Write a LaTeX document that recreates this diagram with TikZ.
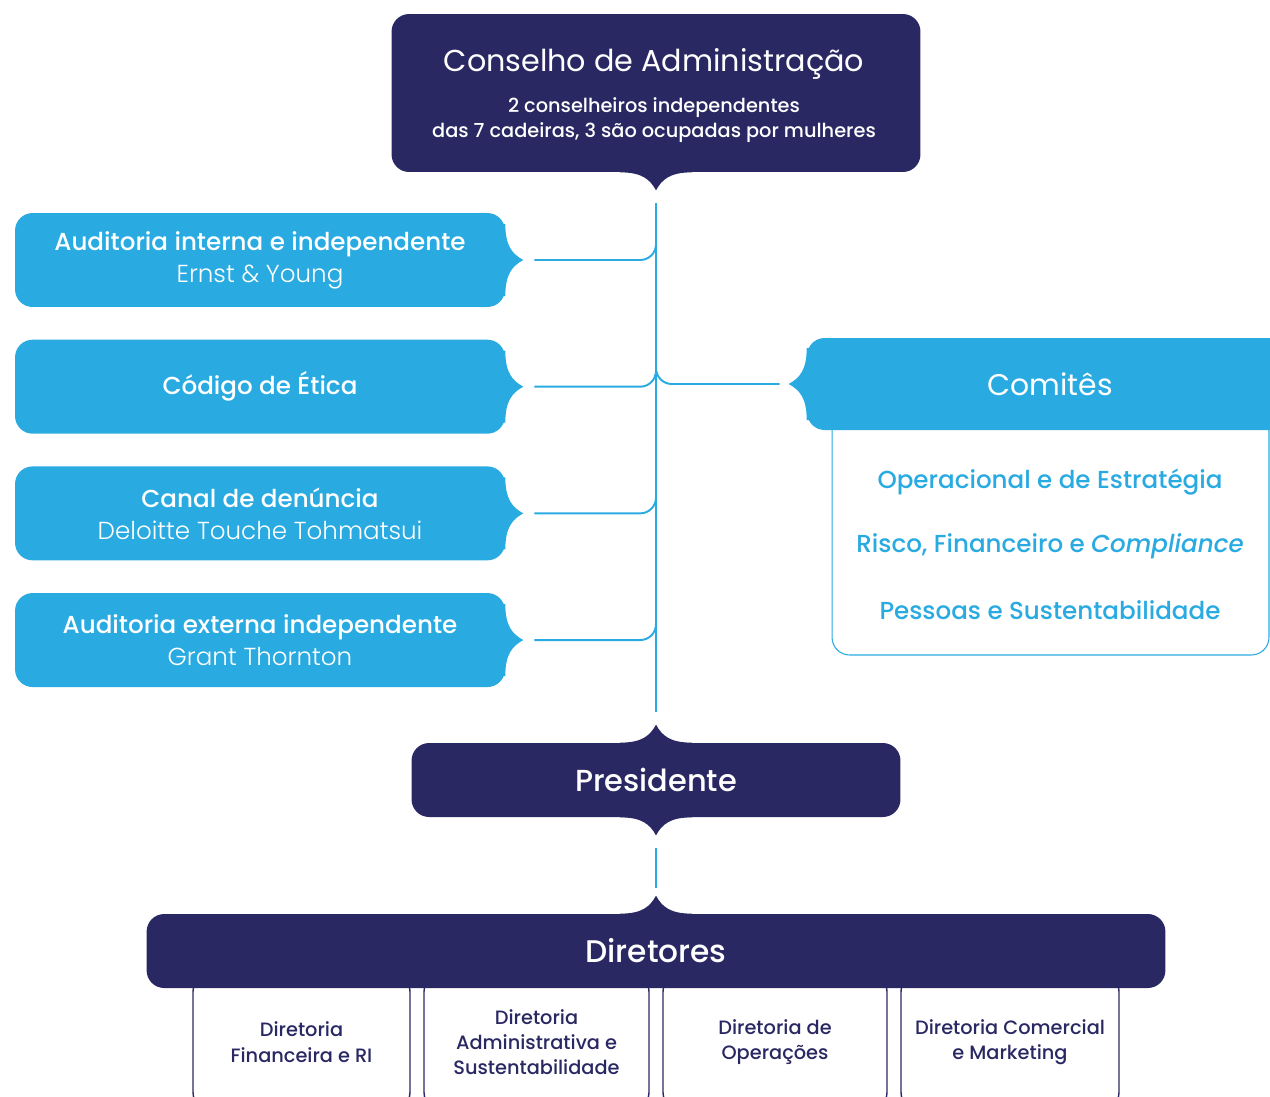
\documentclass[tikz,border=0pt]{standalone}
\usepackage{fontspec}
\setmainfont{Poppins}
\IfFontExistsTF{Poppins Medium}{\newfontfamily\medfont{Poppins Medium}}{\newfontfamily\medfont{Poppins}[FakeBold=0.4]}
\IfFontExistsTF{Poppins Light}{\newfontfamily\lightfont{Poppins Light}}{\newfontfamily\lightfont{Poppins}}
\usetikzlibrary{calc, positioning}
\definecolor{navy}{HTML}{2A2863}
\definecolor{skyblue}{HTML}{29ABE2}

\begin{document}
\begin{tikzpicture}[
x=0.02cm, y=-0.02cm,
node distance=0.64cm,
darkbox/.style={fill=navy, rounded corners=10pt, text=white, align=center, inner sep=0pt},
bluebox/.style={fill=skyblue, rounded corners=10pt, text=white, align=center, inner sep=0pt,
  minimum width=9.8cm, minimum height=1.88cm, font=\fontsize{14}{18.2}\selectfont},
subbox/.style={draw=navy, line width=0.8pt, fill=white, rounded corners=10pt, align=center,
  minimum height=2.72cm, text=navy, font=\medfont\fontsize{11}{14.4}\selectfont},
item/.style={text=skyblue, font=\medfont\fontsize{14}{16}\selectfont},
link/.style={draw=skyblue, line width=1.1pt},
notch/.pic={\fill (-36,-3) -- (-36,0) .. controls (-14,0) and (-6,7) .. (0,18)
  .. controls (6,7) and (14,0) .. (36,0) -- (36,-3) -- cycle;}
]
\useasboundingbox (0,0) rectangle (1270,1096);

% conselho
\node[darkbox, minimum width=10.58cm, minimum height=3.16cm] (conselho) at (656,93) {};
\pic[fill=navy] at (conselho.south) {notch};
\node[text=white, font=\fontsize{17.2}{20}\selectfont] (conselhotitle) at (654,64) {Conselho de Administração};
\node[text=white, align=center, font=\medfont\fontsize{11}{14.2}\selectfont, below=0.12cm of conselhotitle] (conselhosub)
  {2 conselheiros independentes\\das 7 cadeiras, 3 são ocupadas por mulheres};

% caixas da esquerda
\node[bluebox] (audint) at (260,260) {{\medfont Auditoria interna e independente}\\{\lightfont Ernst \& Young}};
\node[bluebox, below=of audint] (etica) {\medfont Código de Ética};
\node[bluebox, below=of etica] (canal) {{\medfont Canal de denúncia}\\{\lightfont Deloitte Touche Tohmatsui}};
\node[bluebox, below=of canal] (audext) {{\medfont Auditoria externa independente}\\{\lightfont Grant Thornton}};
\foreach \b in {audint, etica, canal, audext}
  \pic[rotate=90, fill=skyblue] at (\b.east) {notch};

% comites
\node[draw=skyblue, line width=0.6pt, fill=white, rounded corners=10pt,
  minimum width=8.74cm, minimum height=5.1cm] (comitesbody) at (1050.5,527.5) {};
\node[fill=skyblue, rounded corners=10pt, text=white, minimum width=9.72cm, minimum height=1.84cm,
  font=\fontsize{17}{20}\selectfont] (comites) at (1050,384) {Comitês};
\pic[rotate=-90, fill=skyblue] at (comites.west) {notch};
\node[item] (oper) at (1050,482) {Operacional e de Estratégia};
\node[item] (risco) at (1050,546) {Risco, Financeiro e \textit{Compliance}};
\node[item] (pessoas) at (1050,610) {Pessoas e Sustentabilidade};

% presidente
\node[darkbox, minimum width=9.78cm, minimum height=1.48cm, font=\medfont\fontsize{17.3}{20}\selectfont]
  (presidente) at (656,780) {Presidente};
\pic[rotate=180, fill=navy] at (presidente.north) {notch};
\pic[fill=navy] at (presidente.south) {notch};

% diretorias
\node[subbox, minimum width=4.34cm] (financeira) at (301.5,1042) {Diretoria\\Financeira e RI};
\node[subbox, minimum width=4.5cm] (administrativa) at (536.5,1042) {Diretoria\\Administrativa e\\Sustentabilidade};
\node[subbox, minimum width=4.48cm] (operacoes) at (775,1042) {Diretoria de\\Operações};
\node[subbox, minimum width=4.36cm] (comercial) at (1010,1042) {Diretoria Comercial\\e Marketing};
\node[darkbox, minimum width=20.38cm, minimum height=1.48cm, font=\medfont\fontsize{17.8}{20}\selectfont]
  (diretores) at (656,951) {Diretores};
\pic[rotate=180, fill=navy] at (diretores.north) {notch};

% linhas
\coordinate (trunktop) at ($(conselho.south)+(0,31)$);
\coordinate (trunkend) at ($(presidente.north)+(0,-31)$);
\draw[link] (trunktop) -- (trunkend);
\foreach \b in {audint, etica, canal, audext}
  \draw[link, rounded corners=9pt] ($(\b.east)+(29,0)$) -| ($(trunktop|-\b.east)+(0,-40)$);
\draw[link, rounded corners=9pt] ($(trunktop|-comites.west)+(0,-40)$) |- ($(comites.west)+(-27,0)$);
\draw[link] ($(presidente.south)+(0,31)$) -- ($(diretores.north)+(0,-26)$);

\end{tikzpicture}
\end{document}
